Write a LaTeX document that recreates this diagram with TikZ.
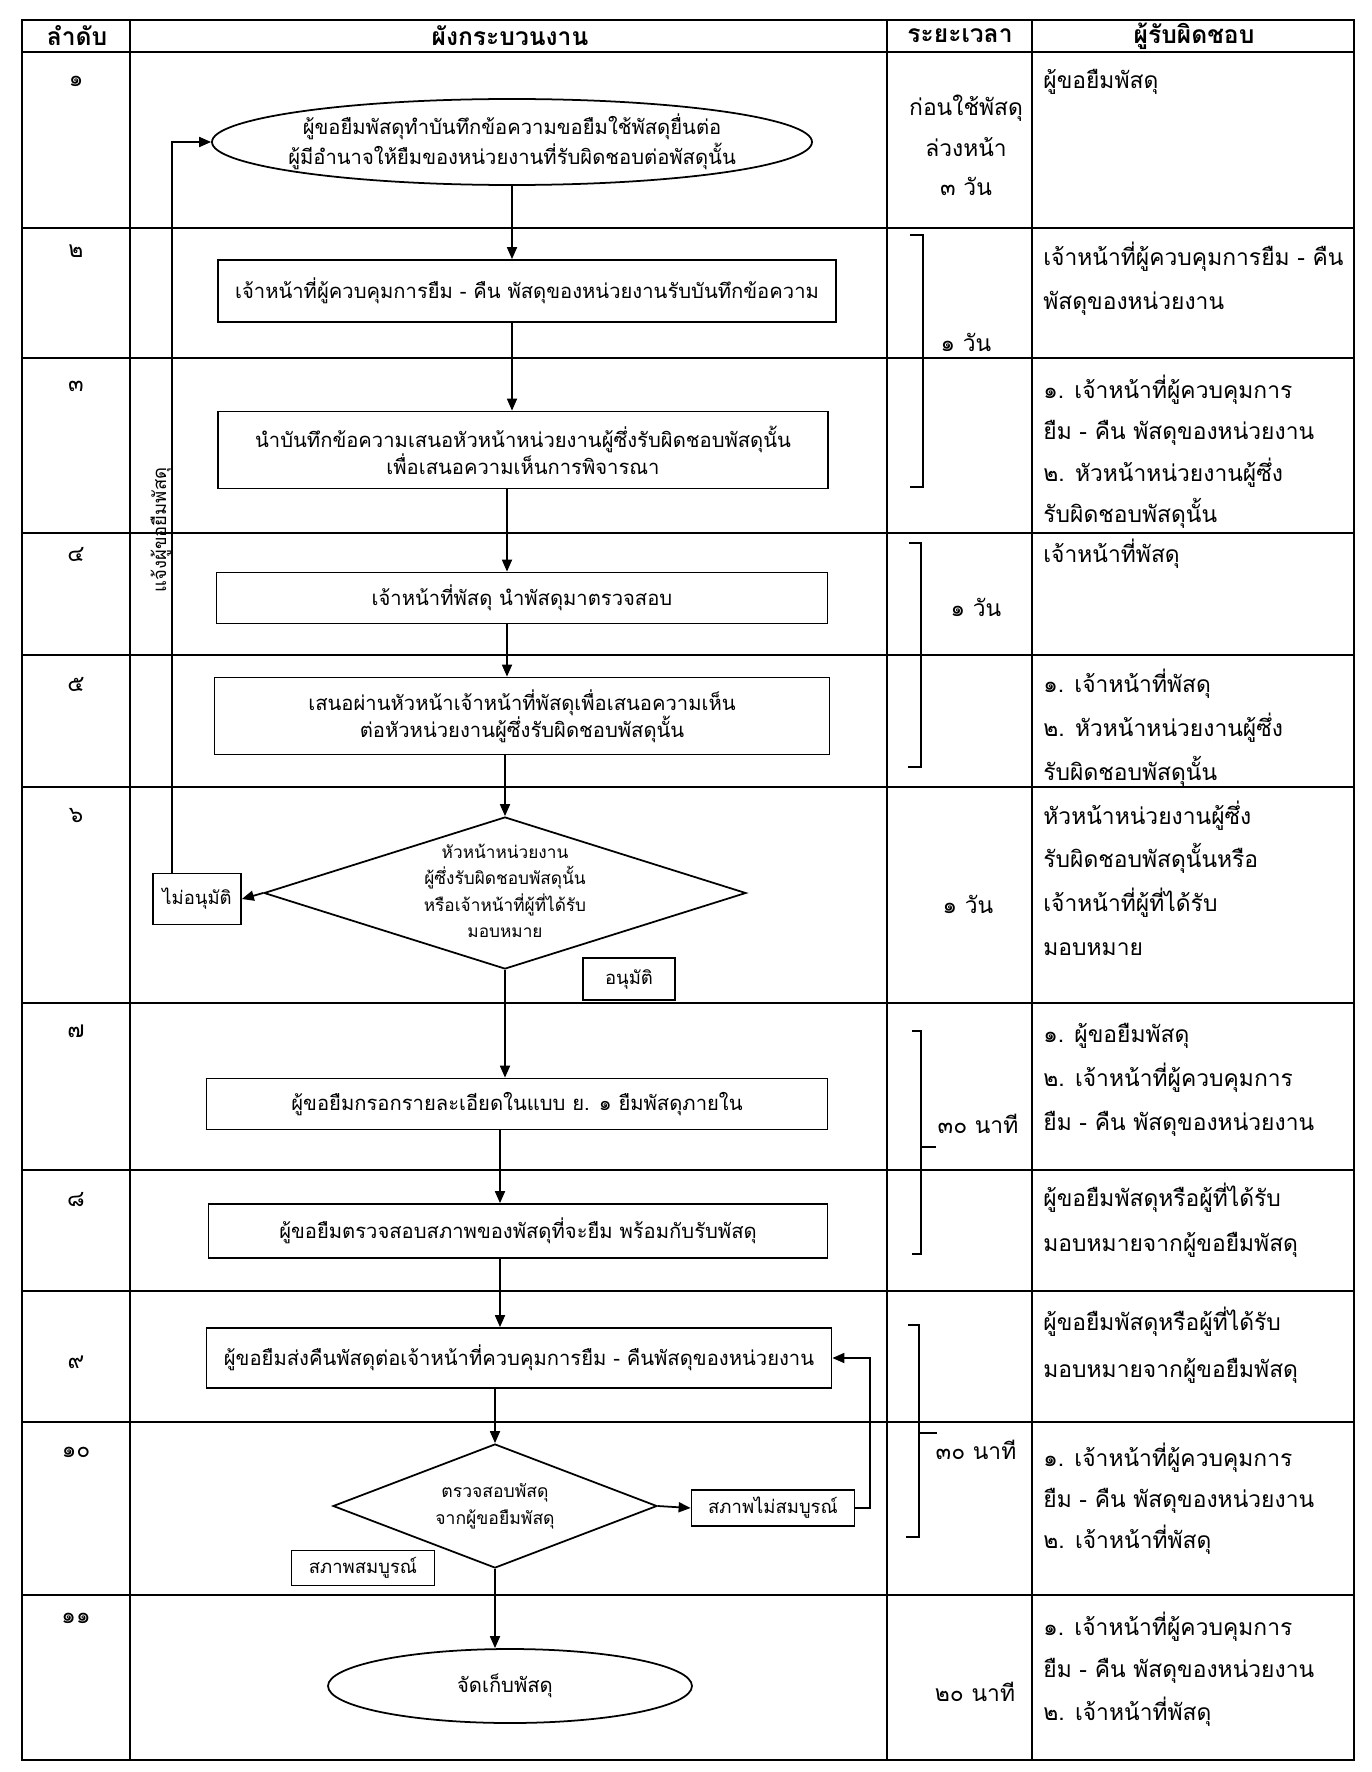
\documentclass[tikz,border=0pt]{standalone}
\usepackage{fontspec}
\newfontfamily\thai[Script=Thai]{Loma}
\usetikzlibrary{shapes.geometric,arrows.meta}
\newcommand\fsR{\thai\fontsize{13}{17}\selectfont}
\newcommand\fsH{\thai\bfseries\fontsize{14}{17}\selectfont}
\newcommand\fsB{\thai\fontsize{11.5}{15.5}\selectfont}
\newcommand\fsS{\thai\fontsize{10.5}{15}\selectfont}
\newcommand\resplines[4]{%
  \foreach \t [count=\i] in {#4}
    \node[resp] (#1-\i) at (1043,{#2+(\i-1)*#3}) {\t};}
\begin{document}
\begin{tikzpicture}[x=0.2mm,y=-0.2mm,
  sz/.style 2 args={minimum width={#1*0.2mm},minimum height={#2*0.2mm}},
  grid/.style={line width=1.1pt},
  fbox/.style={draw,line width=1pt,rectangle,inner sep=0pt,font=\fsB,align=center},
  term/.style={draw,line width=1pt,ellipse,inner sep=0pt},
  dec/.style={draw,line width=1pt,diamond,inner sep=0pt},
  lbl/.style={draw,line width=1pt,rectangle,inner sep=0pt,font=\fsS},
  ftext/.style={font=\fsB,align=center,inner sep=0pt},
  arr/.style={line width=1pt,-{Triangle[length=2.4mm,width=2mm]}},
  brk/.style={line width=1pt},
  resp/.style={font=\fsR,anchor=base west,inner sep=0pt},
  tim/.style={font=\fsR,inner sep=0pt},
  num/.style={font=\fsR,inner sep=0pt},
  head/.style={font=\fsH,inner sep=0pt}]
\useasboundingbox (0,0) rectangle (1372,1772);
\fill[white] (0,0) rectangle (1372,1772);
% table
\draw[grid] (22,20) rectangle (1354,1760);
\foreach \yy in {52,228,358,533,655,787,1003,1170,1291,1422,1595}
  \draw[grid] (22,\yy) -- (1354,\yy);
\foreach \xx in {130,887,1032}
  \draw[grid] (\xx,20) -- (\xx,1760);
% headers
\node[head] (h1) at (77,36) {ลำดับ};
\node[head] (h2) at (510,36) {ผังกระบวนงาน};
\node[head] (h3) at (960,36) {ระยะเวลา};
\node[head] (h4) at (1194,36) {ผู้รับผิดชอบ};
% numbers
\foreach \n/\yy [count=\k] in {๑/81,๒/251,๓/386,๔/554,๕/684,๖/816,๗/1031,๘/1200,๙/1362,๑๐/1452,๑๑/1618}
  \node[num] (n\k) at (76,\yy) {\n};
% flow nodes
\node[term,sz={600}{86}] (e1) at (512,142) {};
\node[ftext,font=\thai\fontsize{11.5}{17}\selectfont] (t1) at (512,142) {ผู้ขอยืมพัสดุทำบันทึกข้อความขอยืมใช้พัสดุยื่นต่อ\\ผู้มีอำนาจให้ยืมของหน่วยงานที่รับผิดชอบต่อพัสดุนั้น};
\node[fbox,sz={618}{62}] (b2) at (527,291) {เจ้าหน้าที่ผู้ควบคุมการยืม - คืน พัสดุของหน่วยงานรับบันทึกข้อความ};
\node[fbox,sz={610}{77}] (b3) at (523,450) {นำบันทึกข้อความเสนอหัวหน้าหน่วยงานผู้ซึ่งรับผิดชอบพัสดุนั้น\\เพื่อเสนอความเห็นการพิจารณา};
\node[fbox,sz={611}{51}] (b4) at (522,598) {เจ้าหน้าที่พัสดุ นำพัสดุมาตรวจสอบ};
\node[fbox,sz={615}{77}] (b5) at (522,716) {เสนอผ่านหัวหน้าเจ้าหน้าที่พัสดุเพื่อเสนอความเห็น\\ต่อหัวหน่วยงานผู้ซึ่งรับผิดชอบพัสดุนั้น};
\node[dec,sz={482}{152}] (d6) at (505,893) {};
\node[ftext,font=\thai\fontsize{9.8}{15}\selectfont] (t6) at (505,891) {หัวหน้าหน่วยงาน\\ผู้ซึ่งรับผิดชอบพัสดุนั้น\\หรือเจ้าหน้าที่ผู้ที่ได้รับ\\มอบหมาย};
\node[lbl,sz={88}{51}] (no6) at (197,899) {ไม่อนุมัติ};
\node[lbl,sz={92}{42}] (yes6) at (629,979) {อนุมัติ};
\node[fbox,sz={621}{51}] (b7) at (517,1104) {ผู้ขอยืมกรอกรายละเอียดในแบบ ย. ๑ ยืมพัสดุภายใน};
\node[fbox,sz={619}{54}] (b8) at (518,1231) {ผู้ขอยืมตรวจสอบสภาพของพัสดุที่จะยืม พร้อมกับรับพัสดุ};
\node[fbox,sz={625}{60}] (b9) at (519,1358) {ผู้ขอยืมส่งคืนพัสดุต่อเจ้าหน้าที่ควบคุมการยืม - คืนพัสดุของหน่วยงาน};
\node[dec,sz={324}{124}] (d10) at (495,1506) {};
\node[ftext,font=\thai\fontsize{10}{15.5}\selectfont] (t10) at (495,1506) {ตรวจสอบพัสดุ\\จากผู้ขอยืมพัสดุ};
\node[lbl,sz={163}{36}] (nc10) at (773,1508) {สภาพไม่สมบูรณ์};
\node[lbl,sz={143}{35}] (c10) at (363,1568) {สภาพสมบูรณ์};
\node[term,sz={364}{74}] (e11) at (510,1686) {};
\node[ftext] (t11) at (505,1686) {จัดเก็บพัสดุ};
% trunk coordinates
\coordinate (tkA) at (512,0);
\coordinate (tkB) at (507,0);
\coordinate (tkC) at (500,0);
\coordinate (fbA) at (172,0);
\coordinate (fbB) at (870,0);
% connectors
\draw[arr] (e1.south) -- (e1.south |- b2.north);
\draw[arr] (b2.south -| tkA) -- (b3.north -| tkA);
\draw[arr] (b3.south -| tkB) -- (b4.north -| tkB);
\draw[arr] (b4.south -| tkB) -- (b5.north -| tkB);
\draw[arr] (b5.south -| d6.north) -- (d6.north);
\draw[arr] (d6.west) -- (no6.east);
\draw[arr] (no6.north -| fbA) |- (e1.west);
\node[font=\fsS,rotate=90,anchor=south,inner sep=1pt] (fbtext) at (173,530) {แจ้งผู้ขอยืมพัสดุ};
\draw[arr] (d6.south) -- (d6.south |- b7.north);
\draw[arr] (b7.south -| tkC) -- (b8.north -| tkC);
\draw[arr] (b8.south -| tkC) -- (b9.north -| tkC);
\draw[arr] (b9.south -| d10.north) -- (d10.north);
\draw[arr] (d10.east) -- (nc10.west);
\draw[arr] (nc10.east) -- (nc10.east -| fbB) |- (b9.east);
\draw[arr] (d10.south) -- (d10.south |- e11.north);
% brackets
\draw[brk] (910,235) -- (923,235) -- (923,487) -- (910,487);
\draw[brk] (909,543) -- (921,543) -- (921,767) -- (908,767);
\draw[brk] (921,655) -- (934,655);
\draw[brk] (912,1031) -- (921,1031) -- (921,1254) -- (912,1254);
\draw[brk] (921,1147) -- (936,1147);
\draw[brk] (908,1325) -- (919,1325) -- (919,1537) -- (906,1537);
\draw[brk] (919,1433) -- (937,1433);
% time column
\node[tim] (tm1a) at (966,108) {ก่อนใช้พัสดุ};
\node[tim] (tm1b) at (966,147) {ล่วงหน้า};
\node[tim] (tm1c) at (966,186) {๓ วัน};
\node[tim] (tm2) at (966,342) {๑ วัน};
\node[tim] (tm4) at (976,607) {๑ วัน};
\node[tim] (tm6) at (968,904) {๑ วัน};
\node[tim] (tm7) at (978,1124) {๓๐ นาที};
\node[tim] (tm10) at (976,1450) {๓๐ นาที};
\node[tim] (tm11) at (975,1692) {๒๐ นาที};
% responsible column
\resplines{r1}{89}{44}{ผู้ขอยืมพัสดุ}
\resplines{r2}{265}{44}{เจ้าหน้าที่ผู้ควบคุมการยืม - คืน,พัสดุของหน่วยงาน}
\resplines{r3}{398}{41.5}{๑. เจ้าหน้าที่ผู้ควบคุมการ,ยืม - คืน พัสดุของหน่วยงาน,๒. หัวหน้าหน่วยงานผู้ซึ่ง,รับผิดชอบพัสดุนั้น}
\resplines{r4}{562}{44}{เจ้าหน้าที่พัสดุ}
\resplines{r5}{692}{44}{๑. เจ้าหน้าที่พัสดุ,๒. หัวหน้าหน่วยงานผู้ซึ่ง,รับผิดชอบพัสดุนั้น}
\resplines{r6}{824}{43.7}{หัวหน้าหน่วยงานผู้ซึ่ง,รับผิดชอบพัสดุนั้นหรือ,เจ้าหน้าที่ผู้ที่ได้รับ,มอบหมาย}
\resplines{r7}{1042}{44}{๑. ผู้ขอยืมพัสดุ,๒. เจ้าหน้าที่ผู้ควบคุมการ,ยืม - คืน พัสดุของหน่วยงาน}
\resplines{r8}{1206}{45}{ผู้ขอยืมพัสดุหรือผู้ที่ได้รับ,มอบหมายจากผู้ขอยืมพัสดุ}
\resplines{r9}{1330}{47}{ผู้ขอยืมพัสดุหรือผู้ที่ได้รับ,มอบหมายจากผู้ขอยืมพัสดุ}
\resplines{r10}{1466}{41}{๑. เจ้าหน้าที่ผู้ควบคุมการ,ยืม - คืน พัสดุของหน่วยงาน,๒. เจ้าหน้าที่พัสดุ}
\resplines{r11}{1635}{42.5}{๑. เจ้าหน้าที่ผู้ควบคุมการ,ยืม - คืน พัสดุของหน่วยงาน,๒. เจ้าหน้าที่พัสดุ}
\end{tikzpicture}
\end{document}
